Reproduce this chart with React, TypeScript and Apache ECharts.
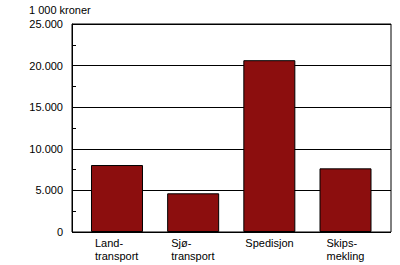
import React, { useEffect, useRef } from "react";
import * as echarts from "echarts";

const categories = ["Land-\ntransport", "Sjø-\ntransport", "Spedisjon", "Skips-\nmekling"];
const values = [8050, 4650, 20650, 7650];
const yTicks = { min: 0, max: 25000, interval: 5000 };
const unitLabel = "1 000 kroner";

const FONT = "'Liberation Sans', Arial, sans-serif";

function fmt(v: number): string {
  const s = Math.round(v).toString();
  return s.replace(/\B(?=(\d{3})+(?!\d))/g, ".");
}

export default function App() {
  const ref = useRef<HTMLDivElement>(null);
  useEffect(() => {
    if (!ref.current) return;
    const chart = echarts.init(ref.current, null, { renderer: "svg" });
    const labelWidths = [44, 44, 48, 38];
    const rich: Record<string, any> = {};
    labelWidths.forEach((w, i) => {
      rich["w" + i] = {
        width: w,
        align: "left",
        fontSize: 11,
        fontFamily: FONT,
        color: "#000",
        lineHeight: 13,
      };
    });
    chart.setOption({
      animation: false,
      backgroundColor: "#fff",
      title: {
        text: unitLabel,
        left: 29,
        top: 4,
        padding: 0,
        textStyle: { fontSize: 11, fontWeight: "normal", color: "#000", fontFamily: FONT },
      },
      grid: [
        {
          left: 72,
          right: 9,
          top: 24,
          bottom: 33,
          show: true,
          borderColor: "#000",
          borderWidth: 1,
          backgroundColor: "transparent",
        },
        { left: 78.9, right: 16.4, top: 24, bottom: 33 },
      ],
      xAxis: [
        { type: "value", gridIndex: 0, show: false, min: 0, max: 1 },
        {
          type: "category",
          gridIndex: 1,
          data: categories,
          axisLine: { show: false },
          axisTick: { show: false },
          axisLabel: {
            margin: 4,
            interval: 0,
            formatter: (v: string, i: number) =>
              v
                .split("\n")
                .map((l) => `{w${i}|${l}}`)
                .join("\n"),
            rich,
          },
        },
      ],
      yAxis: [
        {
          type: "value",
          gridIndex: 0,
          min: yTicks.min,
          max: yTicks.max,
          interval: yTicks.interval,
          axisLine: { show: true, lineStyle: { color: "#000", width: 1 } },
          axisTick: { show: true, inside: true, length: 4, lineStyle: { color: "#000" } },
          minorTick: { show: true, splitNumber: 2, length: 4, lineStyle: { color: "#000" } },
          splitLine: { show: true, lineStyle: { color: "#000", width: 1 } },
          axisLabel: {
            margin: 9,
            fontSize: 11,
            fontFamily: FONT,
            color: "#000",
            formatter: (v: number) => fmt(v),
          },
        },
        {
          type: "value",
          gridIndex: 1,
          min: yTicks.min,
          max: yTicks.max,
          interval: yTicks.interval,
          show: false,
        },
      ],
      series: [
        {
          type: "bar",
          xAxisIndex: 1,
          yAxisIndex: 1,
          data: values,
          barWidth: 52,
          itemStyle: {
            color: "#8c0e0e",
            borderColor: "#000",
            borderWidth: 1,
          },
        },
      ],
    });
    return () => chart.dispose();
  }, []);
  return (
    <div
      ref={ref}
      style={{ position: "fixed", left: 0, top: 0, width: 400, height: 265 }}
    />
  );
}
